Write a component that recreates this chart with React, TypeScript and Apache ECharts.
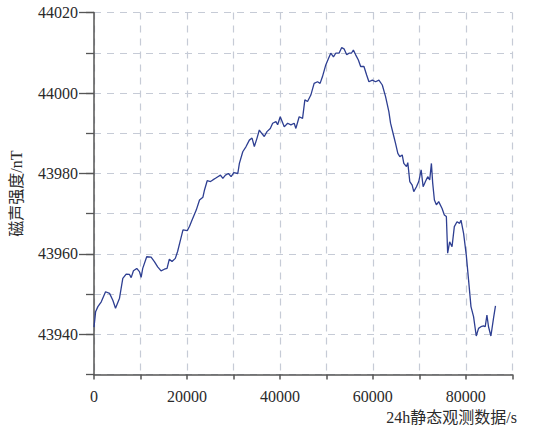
import React, { useEffect, useRef } from "react";
import * as echarts from "echarts";

const timeSec = [
  0, 343, 836, 1565, 2487, 3345, 4052, 4631, 5489, 6196, 6925, 7633, 7997, 8490, 9198, 9777,
  10141, 10484, 11342, 12285, 12993, 13700, 14429, 15137, 15715, 16209, 16787, 17495, 17988,
  18503, 19146, 20068, 20561, 21076, 21997, 22705, 23434, 23777, 24356, 25063, 25578, 26135,
  26650, 27207, 27722, 28279, 28922, 29501, 30080, 30938, 31281, 32010, 32717, 33425, 34004,
  34497, 35076, 35569, 36084, 36641, 37220, 37927, 38442, 39149, 39514, 40071, 40929, 41658,
  42365, 43073, 43437, 44145, 44874, 45367, 45946, 46653, 47361, 48090, 48647, 49162, 49869,
  50448, 50941, 51520, 52013, 52721, 53300, 53793, 54371, 54865, 55380, 55808, 56301, 56880,
  57373, 58081, 58660, 59153, 59882, 60589, 61297, 62026, 62733, 63441, 63805, 64513, 64877,
  65371, 65800, 66314, 66657, 67236, 67515, 67943, 68458, 68801, 69380, 69873, 70388, 70816,
  71309, 71802, 72231, 72596, 72874, 73239, 73668, 74161, 74890, 75383, 75812, 76091, 76520,
  77035, 77528, 78106, 78664, 78964, 79521, 80100, 80593, 81108, 81665, 82244, 82738, 83252,
  83810, 84174, 84539, 84882, 85396, 85954, 86382,
];

const fieldNT = [
  43941.8, 43945.6, 43946.9, 43948.1, 43950.6, 43950.2, 43948.5, 43946.5, 43949.0, 43953.9,
  43955.0, 43954.9, 43954.1, 43955.8, 43956.4, 43955.6, 43954.2, 43956.4, 43959.3, 43959.2,
  43958.1, 43956.8, 43955.8, 43956.2, 43956.4, 43958.7, 43958.1, 43958.9, 43960.6, 43963.0,
  43966.0, 43965.8, 43966.9, 43968.4, 43970.9, 43973.4, 43974.1, 43975.9, 43978.2, 43978.0,
  43978.4, 43978.8, 43979.2, 43979.6, 43978.8, 43979.6, 43980.0, 43979.2, 43980.2, 43980.0,
  43982.5, 43985.4, 43986.7, 43988.3, 43988.8, 43986.7, 43988.8, 43990.8, 43990.0, 43989.2,
  43990.4, 43991.2, 43992.5, 43992.9, 43992.1, 43994.1, 43991.6, 43992.5, 43992.1, 43992.5,
  43991.2, 43994.1, 43993.7, 43998.3, 43997.9, 43999.5, 44002.4, 44002.8, 44002.4, 44004.1,
  44007.0, 44008.6, 44009.9, 44009.0, 44009.9, 44009.9, 44011.3, 44011.0, 44009.5, 44009.9,
  44009.9, 44010.7, 44009.5, 44008.2, 44006.6, 44006.6, 44004.5, 44002.8, 44003.2, 44002.8,
  44003.2, 44002.0, 43999.1, 43995.4, 43992.5, 43989.2, 43987.5, 43985.0, 43984.2, 43984.6,
  43982.5, 43981.7, 43982.7, 43978.0, 43977.1, 43975.5, 43976.7, 43978.0, 43980.9, 43976.7,
  43978.0, 43979.2, 43978.4, 43982.5, 43977.6, 43973.4, 43972.2, 43973.0, 43971.3, 43969.7,
  43969.3, 43960.2, 43963.0, 43961.8, 43966.8, 43968.0, 43967.6, 43968.4, 43965.1, 43959.7,
  43953.5, 43946.9, 43944.4, 43939.6, 43941.5, 43941.9, 43942.1, 43941.9, 43944.8, 43941.9,
  43939.6, 43944.0, 43947.1,
];

const xTickLabels = [0, 20000, 40000, 60000, 80000];
const yTickLabels = [43940, 43960, 43980, 44000, 44020];

const xName = "24h静态观测数据/s";
const yName = "磁声强度/nT";

const FONT = "Liberation Serif, Noto Sans CJK SC, serif";

export default function App() {
  const ref = useRef<HTMLDivElement>(null);

  useEffect(() => {
    if (!ref.current) return;
    const chart = echarts.init(ref.current, undefined, { renderer: "svg" });
    const data = timeSec.map((t, i) => [t, fieldNT[i]]);
    const axisColor = "#555555";
    const textColor = "#2a2a2a";
    const gridLine = {
      show: true,
      lineStyle: { color: "#c6cbd6", width: 1.2, type: [7, 6] as any },
    };

    chart.setOption({
      animation: false,
      backgroundColor: "#ffffff",
      textStyle: { fontFamily: FONT },
      grid: { left: 92.4, right: 22.7, top: 12.6, bottom: 55.4, containLabel: false },
      xAxis: {
        type: "value",
        min: 0,
        max: 90000,
        interval: 10000,
        axisLine: { show: true, lineStyle: { color: axisColor, width: 1.5 } },
        axisTick: { show: true, length: 5, inside: false, lineStyle: { color: axisColor, width: 1.5 } },
        axisLabel: {
          show: true,
          margin: 14,
          color: textColor,
          fontFamily: FONT,
          fontSize: 16,
          formatter: (v: number) => (xTickLabels.includes(v) ? String(v) : ""),
        },
        splitLine: gridLine,
      },
      yAxis: [
        {
          type: "value",
          position: "left",
          min: 43930,
          max: 44020,
          interval: 10,
          axisLine: { show: true, lineStyle: { color: axisColor, width: 1.5 } },
          axisTick: { show: true, length: 8, lineStyle: { color: axisColor, width: 1.3 } },
          axisLabel: { show: false },
          splitLine: gridLine,
          name: yName,
          nameLocation: "middle",
          nameGap: 70,
          nameRotate: 90,
          nameTextStyle: { color: textColor, fontFamily: FONT, fontSize: 16 },
        },
        {
          type: "value",
          position: "left",
          offset: 0,
          min: 43930,
          max: 44020,
          interval: 10,
          axisLine: { show: false },
          axisTick: {
            show: true,
            length: 15,
            customValues: yTickLabels,
            lineStyle: { color: axisColor, width: 1.3 },
          },
          axisLabel: {
            show: true,
            margin: 16,
            customValues: yTickLabels,
            color: textColor,
            fontFamily: FONT,
            fontSize: 16,
            formatter: (v: number) => String(v),
          },
          splitLine: { show: false },
        },
      ],
      graphic: [
        {
          type: "text",
          right: 18,
          top: 409,
          style: { text: xName, fill: textColor, fontFamily: FONT, fontSize: 16 },
        },
      ],
      series: [
        {
          type: "line",
          yAxisIndex: 0,
          data,
          showSymbol: false,
          symbol: "none",
          lineStyle: { color: "#2e3f92", width: 1.3 },
        },
      ],
    });

    return () => chart.dispose();
  }, []);

  return (
    <div
      ref={ref}
      style={{ position: "absolute", left: 0, top: 0, width: 535, height: 430 }}
    />
  );
}
